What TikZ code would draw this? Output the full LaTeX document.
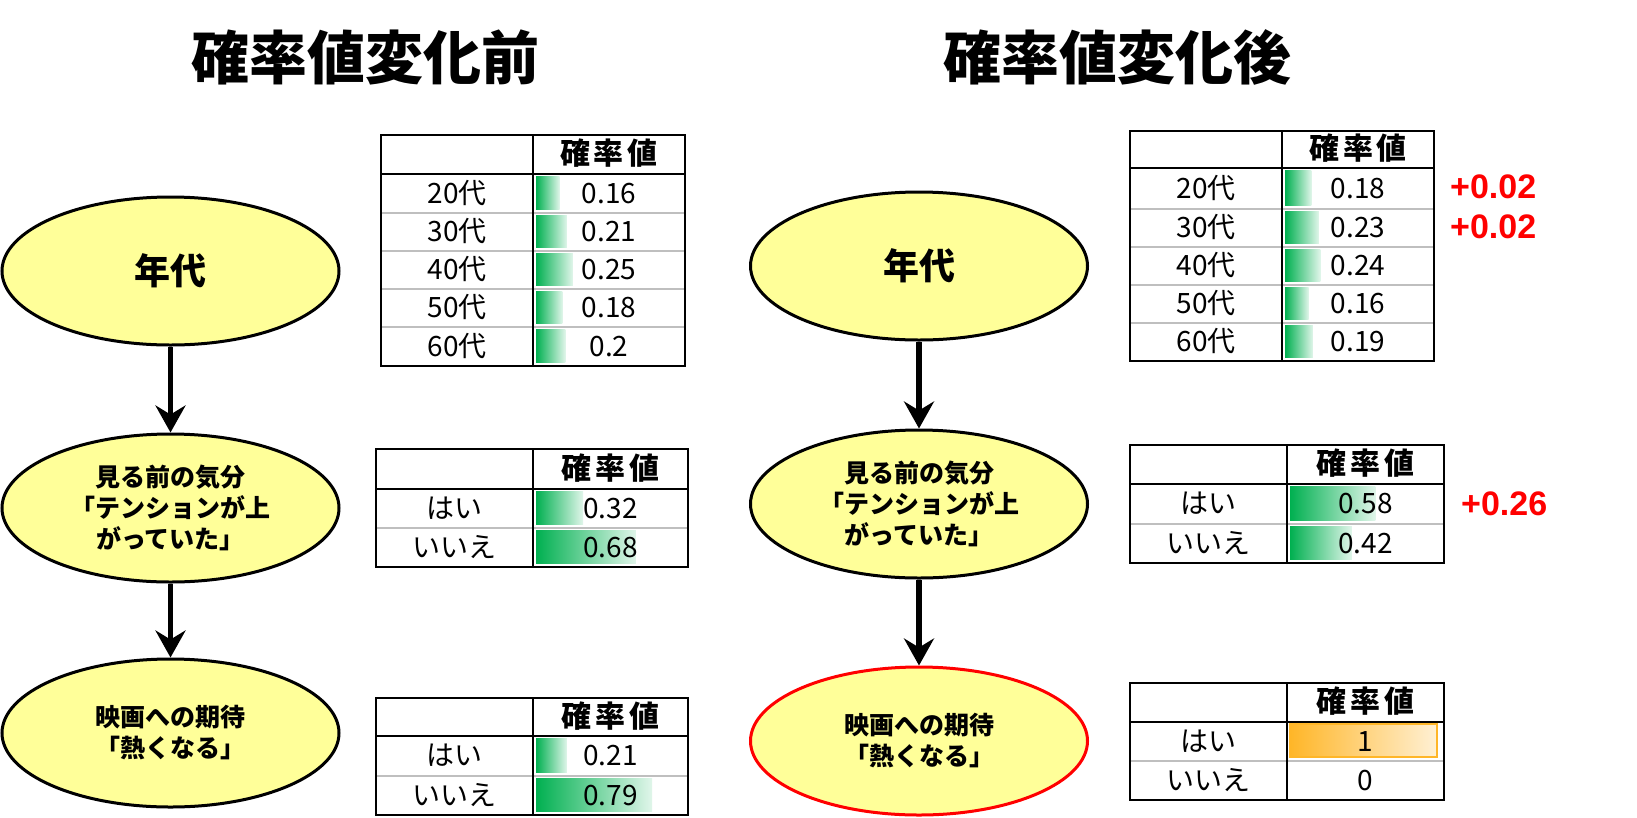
\documentclass[tikz,border=0pt]{standalone}
\usepackage{fontspec}
\newfontfamily\jp{Noto Sans CJK JP}
\newfontfamily\lsans{Liberation Sans}
\usetikzlibrary{arrows.meta,shapes.geometric}
\definecolor{ellfill}{HTML}{FFFF99}
\definecolor{barG}{HTML}{00B050}
\definecolor{barO}{HTML}{FFB628}
\definecolor{grayline}{HTML}{BFBFBF}
\tikzset{
  tabline/.style={line width=2.5pt, black},
  rowline/.style={line width=2pt, grayline},
  gbar/.style={left color=barG, right color=barG!12!white},
  obar/.style={left color=barO, right color=barO!20!white, draw=barO, line width=1.2pt},
  cell/.style={inner sep=0pt, text height=0.74em, text depth=0pt, yshift=-6pt, font=\jp\fontsize{28}{32}\selectfont},
  hdr/.style={inner sep=0pt, text height=0.8em, text depth=0pt, yshift=-6pt, font=\jp\bfseries\fontsize{30}{34}\selectfont},
  ttl/.style={inner sep=0pt, font=\jp\bfseries\fontsize{58}{62}\selectfont},
  ell/.style={ellipse, draw=black, line width=3pt, fill=ellfill, minimum width=337pt, minimum height=148pt, inner sep=0pt, align=center},
  ellbig/.style={font=\jp\bfseries\fontsize{36}{40}\selectfont},
  ellsmall/.style={font=\jp\bfseries\fontsize{25}{31}\selectfont},
  arr/.style={line width=5.5pt, -{Stealth[length=27pt,width=30pt,inset=9pt]}},
  delta/.style={inner sep=0pt, anchor=west, text height=0.72em, text depth=0pt, yshift=-7pt, text=red, font=\lsans\bfseries\fontsize{34}{36}\selectfont}
}
% #1 name, #2 L, #3 D, #4 R, #5 top, #6 bottom, #7 label, #8 value, #9 bar style
\newcommand\tabrow[9]{%
  \draw[rowline] (#2,#5) -- (#4,#5);
  \ifdim #8pt>0pt \shade[#9] ({#3+3},{#5+2}) rectangle ({#3+3+147*#8},{#6-4}); \fi
  \node[cell] (#1l) at ({(#2+#3)/2},{(#5+#6)/2}) {#7};
  \node[cell] (#1v) at ({(#3+#4)/2},{(#5+#6)/2}) {#8};
}
% #1 name, #2 L, #3 D, #4 R, #5 top, #6 header bottom, #7 bottom
\newcommand\tabframe[7]{%
  \draw[tabline] (#2,#5) rectangle (#4,#7);
  \draw[tabline] (#2,#6) -- (#4,#6);
  \draw[tabline] (#3,#5) -- (#3,#7);
  \node[hdr] (#1h) at ({(#3+#4)/2},{(#5+#6)/2}) {確\hspace{4pt}率\hspace{4pt}値};
}
\begin{document}
\begin{tikzpicture}[x=1pt,y=-1pt]
\useasboundingbox[fill=white] (0,0) rectangle (1637,817);

% titles
\node[ttl] (ttlL) at (365,57) {確率値変化前};
\node[ttl] (ttlR) at (1117,57) {確率値変化後};

% left ellipses
\node[ell, ellbig] (A1) at (170.5,271) {年代};
\node[ell, ellsmall] (A2) at (170.5,508) {見る前の気分\\「テンションが上\\がっていた」};
\node[ell, ellsmall] (A3) at (170.5,733) {映画への期待\\「熱くなる」};
\draw[arr] (A1.south) -- (A2.north);
\draw[arr] (A2.south) -- (A3.north);

% right ellipses
\node[ell, ellbig] (B1) at (919,266) {年代};
\node[ell, ellsmall] (B2) at (919,504) {見る前の気分\\「テンションが上\\がっていた」};
\node[ell, ellsmall, draw=red] (B3) at (919,741) {映画への期待\\「熱くなる」};
\draw[arr] (B1.south) -- (B2.north);
\draw[arr] (B2.south) -- (B3.north);

% left table 1
\tabrow{taA}{381}{533}{685}{174}{213}{20代}{0.16}{gbar}
\tabrow{tbA}{381}{533}{685}{213}{251}{30代}{0.21}{gbar}
\tabrow{tcA}{381}{533}{685}{251}{289}{40代}{0.25}{gbar}
\tabrow{tdA}{381}{533}{685}{289}{327}{50代}{0.18}{gbar}
\tabrow{teA}{381}{533}{685}{327}{366}{60代}{0.2}{gbar}
\tabframe{tabA}{381}{533}{685}{135}{174}{366}

% left table 2
\tabrow{taB}{376}{533}{688}{489}{528}{はい}{0.32}{gbar}
\tabrow{tbB}{376}{533}{688}{528}{567}{いいえ}{0.68}{gbar}
\tabframe{tabB}{376}{533}{688}{449}{489}{567}

% left table 3
\tabrow{taC}{376}{533}{688}{736}{776}{はい}{0.21}{gbar}
\tabrow{tbC}{376}{533}{688}{776}{815}{いいえ}{0.79}{gbar}
\tabframe{tabC}{376}{533}{688}{698}{736}{815}

% right table 1
\tabrow{taD}{1130}{1282}{1434}{168}{209}{20代}{0.18}{gbar}
\tabrow{tbD}{1130}{1282}{1434}{209}{247}{30代}{0.23}{gbar}
\tabrow{tcD}{1130}{1282}{1434}{247}{285}{40代}{0.24}{gbar}
\tabrow{tdD}{1130}{1282}{1434}{285}{323}{50代}{0.16}{gbar}
\tabrow{teD}{1130}{1282}{1434}{323}{361}{60代}{0.19}{gbar}
\tabframe{tabD}{1130}{1282}{1434}{131}{168}{361}

% right table 2
\tabrow{taE}{1130}{1287}{1444}{484}{524}{はい}{0.58}{gbar}
\tabrow{tbE}{1130}{1287}{1444}{524}{563}{いいえ}{0.42}{gbar}
\tabframe{tabE}{1130}{1287}{1444}{445}{484}{563}

% right table 3
\tabrow{taF}{1130}{1287}{1444}{722}{761}{はい}{1}{obar}
\tabrow{tbF}{1130}{1287}{1444}{761}{800}{いいえ}{0}{gbar}
\tabframe{tabF}{1130}{1287}{1444}{683}{722}{800}

% deltas
\node[delta] (d1) at (1450,188) {+0.02};
\node[delta] (d2) at (1450,228) {+0.02};
\node[delta] (d3) at (1461,505) {+0.26};
\end{tikzpicture}
\end{document}
